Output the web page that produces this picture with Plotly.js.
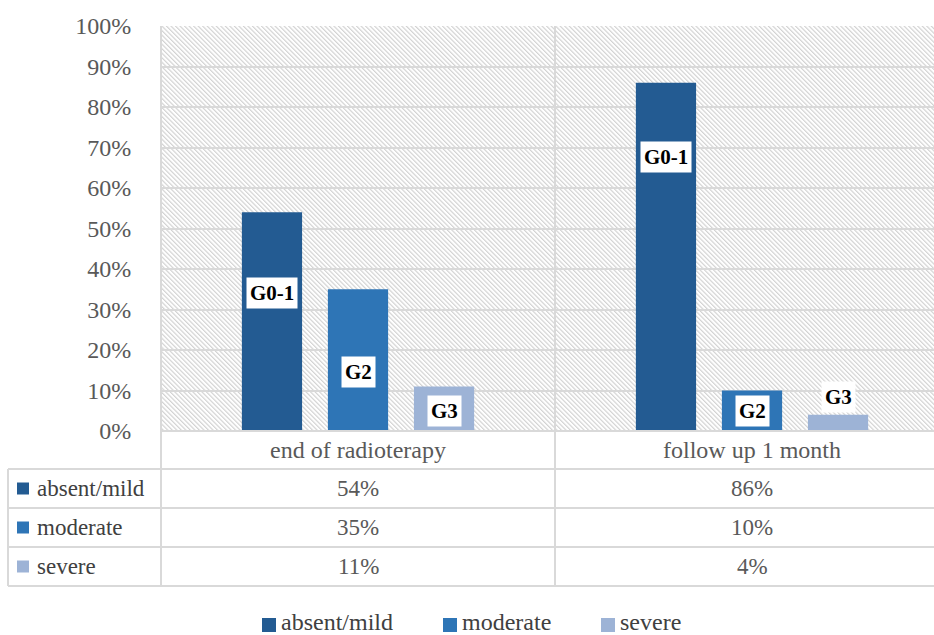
<!DOCTYPE html>
<html><head><meta charset="utf-8">
<script src="https://cdn.plot.ly/plotly-3.0.1.min.js"></script>
<style>html,body{margin:0;padding:0;background:#fff}#chart{width:934px;height:635px}</style>
</head><body><div id="chart"></div>
<script>
// ---- data ----
const categories = ['end of radioterapy', 'follow up 1 month'];
const seriesNames = ['absent/mild', 'moderate', 'severe'];
const absentMild = [54, 86];
const moderate = [35, 10];
const severe = [11, 4];
const barLabels = ['G0-1', 'G2', 'G3'];
const yTickVals = [0, 10, 20, 30, 40, 50, 60, 70, 80, 90, 100];
const yTickText = yTickVals.map(v => v + '%');

// ---- styling / geometry ----
const seriesValues = [absentMild, moderate, severe];
const colors = ['#235b92', '#2e75b6', '#9db3d6'];
const W = 934, H = 635, L = 161, T = 26, PB = 431;
const plotW = W - L, plotH = PB - T;
const px2x = X => (X - L) / plotW;
const px2y = Y => (PB - Y) / plotH;
const FONT = 'Liberation Serif, Times New Roman, serif';
const GRID = '#d9d9d9';
const bargap = 0.345;
const slot = (1 - bargap) / 3;
// manual label placements (in % units) as in the original figure
const labelY = [[34.1, 67.7], [14.6, 4.9], [4.9, 8.4]];

const traces = seriesNames.map((name, si) => ({
  type: 'bar', name: name, x: [0, 1], y: seriesValues[si],
  marker: {color: colors[si]}, hoverinfo: 'skip', showlegend: false
}));

const shapes = [];
const annotations = [];

// bar labels
seriesNames.forEach((n, si) => {
  categories.forEach((c, ci) => {
    annotations.push({
      xref: 'x', yref: 'y', x: ci + (si - 1) * slot, y: labelY[si][ci],
      text: '<b>' + barLabels[si] + '</b>', showarrow: false,
      font: {family: FONT, size: 21, color: '#000'},
      bgcolor: '#fff', borderpad: 3, xanchor: 'center', yanchor: 'middle'
    });
  });
});

// table
const rowLines = [469, 508, 547, 586];
const tableBottom = px2y(586);
rowLines.forEach(Y => shapes.push({type: 'line', xref: 'paper', yref: 'paper',
  x0: px2x(8), x1: 1, y0: px2y(Y), y1: px2y(Y), line: {color: GRID, width: 2}}));
shapes.push({type: 'line', xref: 'paper', yref: 'paper', x0: px2x(8), x1: px2x(8),
  y0: px2y(469), y1: tableBottom, line: {color: GRID, width: 2}});
shapes.push({type: 'line', xref: 'paper', yref: 'paper', x0: 0, x1: 0,
  y0: 1, y1: tableBottom, line: {color: GRID, width: 2}});
shapes.push({type: 'line', xref: 'x', yref: 'paper', x0: 0.5, x1: 0.5,
  y0: 1, y1: tableBottom, line: {color: GRID, width: 2}});
shapes.push({type: 'line', xref: 'paper', yref: 'paper', x0: 0, x1: 1,
  y0: 0, y1: 0, line: {color: GRID, width: 2}});

categories.forEach((c, ci) => annotations.push({
  xref: 'x', yref: 'paper', x: ci, y: px2y(450), text: c, showarrow: false,
  font: {family: FONT, size: 24, color: '#595959'}, yanchor: 'middle'
}));
const rowCenters = [488.5, 527.5, 566.5];
seriesNames.forEach((n, si) => {
  const yc = px2y(rowCenters[si]);
  shapes.push({type: 'rect', xref: 'paper', yref: 'paper',
    x0: px2x(17), x1: px2x(29), y0: yc - 6 / plotH, y1: yc + 6 / plotH,
    fillcolor: colors[si], line: {width: 0}});
  annotations.push({xref: 'paper', yref: 'paper', x: px2x(35), y: yc, text: n,
    showarrow: false, xanchor: 'left', yanchor: 'middle',
    font: {family: FONT, size: 23, color: '#404040'}});
  categories.forEach((c, ci) => annotations.push({
    xref: 'x', yref: 'paper', x: ci, y: yc, text: seriesValues[si][ci] + '%',
    showarrow: false, yanchor: 'middle',
    font: {family: FONT, size: 23, color: '#595959'}
  }));
});

// legend (manual)
const legSquares = [262, 443, 601];
const legY = px2y(622);
seriesNames.forEach((n, si) => {
  shapes.push({type: 'rect', xref: 'paper', yref: 'paper',
    x0: px2x(legSquares[si]), x1: px2x(legSquares[si] + 14),
    y0: legY - 7 / plotH - 3 / plotH, y1: legY + 7 / plotH - 3 / plotH,
    fillcolor: colors[si], line: {width: 0}});
  annotations.push({xref: 'paper', yref: 'paper', x: px2x(legSquares[si] + 18), y: legY,
    text: n, showarrow: false, xanchor: 'left', yanchor: 'middle', borderpad: 0,
    font: {family: FONT, size: 24, color: '#404040'}});
});

// hatch background
const svg = "<svg xmlns='http://www.w3.org/2000/svg' width='" + plotW + "' height='" + plotH + "'>" +
  "<defs><pattern id='h' width='3.2' height='3.2' patternUnits='userSpaceOnUse' patternTransform='rotate(-45)'>" +
  "<rect width='4' height='4' fill='#ffffff'/><line x1='0.6' y1='-1' x2='0.6' y2='5' stroke='#cfcfcf' stroke-width='1.1'/></pattern></defs>" +
  "<rect width='" + plotW + "' height='" + plotH + "' fill='url(#h)'/></svg>";

const layout = {
  width: W, height: H,
  margin: {l: L, r: 0, t: T, b: H - PB, pad: 0},
  paper_bgcolor: '#fff', plot_bgcolor: 'rgba(0,0,0,0)',
  barmode: 'group', bargap: bargap, bargroupgap: 0.30,
  showlegend: false,
  xaxis: {range: [-0.5, -0.5 + plotW / 394], showticklabels: false, showgrid: false,
    zeroline: false, showline: false, fixedrange: true},
  yaxis: {range: [0, 100], tickmode: 'array', tickvals: yTickVals, ticktext: yTickText,
    showgrid: true, gridcolor: GRID, gridwidth: 2, zeroline: false, showline: false,
    ticks: 'outside', ticklen: 24, tickcolor: 'rgba(0,0,0,0)',
    tickfont: {family: FONT, size: 24, color: '#595959'}, fixedrange: true},
  images: [{source: 'data:image/svg+xml;charset=utf-8,' + encodeURIComponent(svg),
    xref: 'paper', yref: 'paper', x: 0, y: 1, sizex: 1, sizey: 1,
    xanchor: 'left', yanchor: 'top', sizing: 'stretch', layer: 'below'}],
  shapes: shapes, annotations: annotations
};
Plotly.newPlot('chart', traces, layout, {displayModeBar: false, staticPlot: true});
</script></body></html>
